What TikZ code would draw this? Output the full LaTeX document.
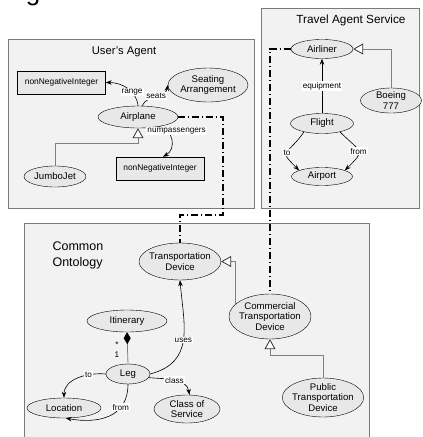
\documentclass[tikz,border=0pt]{standalone}
\usepackage{fontspec}
\setmainfont{Liberation Sans}
\usetikzlibrary{arrows.meta,shapes.geometric}
\definecolor{pkgfill}{HTML}{F2F2F2}
\definecolor{clsfill}{HTML}{E8E8E8}
\definecolor{pkgline}{HTML}{7A7A7A}
\definecolor{genline}{HTML}{808080}

\begin{document}
\begin{tikzpicture}[x=1pt,y=1pt,>={Stealth[length=6pt,width=4.5pt]},
  cls/.style={draw,ellipse,fill=clsfill,inner xsep=-2pt,inner ysep=-2pt,align=center,font=\fontsize{9.6}{10.8}\selectfont},
  dtype/.style={draw,fill=clsfill,font=\fontsize{8.4}{10}\selectfont,minimum width=88pt,minimum height=23pt,inner sep=0pt},
  pkg/.style={draw=pkgline,fill=pkgfill,line width=0.8pt},
  lbl/.style={fill=white,inner sep=1pt,font=\fontsize{8.2}{9.6}\selectfont},
  gen/.style={draw=genline,line width=0.8pt,-{Triangle[open,length=10pt,width=11pt,fill=white,color=black!80]}},
  link/.style={line width=1.1pt,dash pattern=on 7pt off 3pt on 1pt off 3pt},
  rel/.style={->,line width=0.6pt}]
\useasboundingbox (0,0) rectangle (423,-437);
\fill[white] (0,0) rectangle (423,-437);
\node[font=\fontsize{26}{26}\selectfont,anchor=base,inner sep=0pt] (gfrag) at (33,0) {g};
% packages
\draw[pkg] (8,-39) rectangle (254,-208);
\node[font=\fontsize{11.2}{13}\selectfont] (uatitle) at (124,-52) {User's Agent};
\draw[pkg] (261,-8) rectangle (419,-208);
\node[font=\fontsize{11.8}{13}\selectfont] (tatitle) at (351,-20) {Travel Agent Service};
\draw[pkg] (24,-223) rectangle (369,-445);
\node[font=\fontsize{12.5}{16}\selectfont,align=left,anchor=north west] (cotitle) at (49,-238) {Common\\Ontology};
% user's agent
\node[dtype] (nni1) at (61.5,-82.5) {nonNegativeInteger};
\node[cls,minimum width=80pt,minimum height=34pt] (seat) at (208,-85) {Seating\\Arrangement};
\node[cls,minimum width=80pt,minimum height=22pt] (air) at (138,-117) {Airplane};
\node[cls,minimum width=62pt,minimum height=21pt] (jj) at (55,-176.5) {JumboJet};
\node[dtype] (nni2) at (160,-168.5) {nonNegativeInteger};
\draw[rel] (air.north) to[out=95,in=0] node[lbl,pos=0.35] {range} (nni1.east);
\draw[rel] (air.70) to[out=65,in=-100] node[lbl,pos=0.5] {seats} (seat.west);
\draw[rel] (air.-25) to[out=-10,in=30,looseness=1.3] node[lbl,pos=0.25,xshift=9pt] {numpassengers} ([xshift=3pt]nni2.north);
\draw[gen] (jj.north) |- ([yshift=-15pt]air.south) -- (air.south);
% travel agent service
\node[cls,minimum width=62pt,minimum height=19pt] (al) at (322,-49) {Airliner};
\node[cls,minimum width=61pt,minimum height=25pt] (b7) at (391,-100.5) {Boeing\\777};
\node[cls,minimum width=63pt,minimum height=20pt] (fl) at (322,-123.5) {Flight};
\node[cls,minimum width=61pt,minimum height=18pt] (ap) at (322,-176.5) {Airport};
\draw[rel] (fl.north) -- node[lbl] {equipment} (al.south);
\draw[rel] (fl.205) to[out=235,in=135,looseness=2] node[lbl] {to} (ap.165);
\draw[rel] (fl.-25) to[out=-45,in=45,looseness=2] node[lbl] {from} (ap.15);
\draw[gen] (b7.north) |- (al.east);
% common ontology
\node[cls,minimum width=82pt,minimum height=37pt] (td) at (180,-261.5) {Transportation\\Device};
\node[cls,minimum width=80pt,minimum height=22pt] (itin) at (127,-321) {Itinerary};
\node[cls,minimum width=44pt,minimum height=20pt] (leg) at (128,-374) {Leg};
\node[cls,minimum width=74pt,minimum height=20pt] (loc) at (64,-408) {Location};
\node[cls,minimum width=66pt,minimum height=28pt] (cos) at (187,-409) {Class of\\Service};
\node[cls,minimum width=82pt,minimum height=45pt] (ctd) at (270,-316.5) {Commercial\\Transportation\\Device};
\node[cls,minimum width=80pt,minimum height=39pt] (ptd) at (323,-397.5) {Public\\Transportation\\Device};
\draw[draw=genline,line width=0.8pt,-{Diamond[length=12pt,width=7pt,color=black]}] (leg.north) -- (itin.south);
\node[lbl,fill=none] (mstar) at (117,-345) {*};
\node[lbl,fill=none] (mone) at (117,-355) {1};
\draw[rel] (leg.east) to[out=15,in=-85,looseness=1.2] node[lbl,pos=0.5] {uses} (td.south);
\draw[rel] (leg.-10) to[out=-5,in=100] node[lbl,pos=0.5] {class} (cos.80);
\draw[rel] (leg.west) to[out=175,in=90] node[lbl,pos=0.3] {to} (loc.north);
\draw[rel] (leg.south) to[out=-90,in=-10,looseness=1.2] node[lbl,pos=0.3] {from} (loc.-80);
\draw[gen] (ctd.160) |- (td.east);
\draw[gen] (ptd.north) |- ([yshift=-16pt]ctd.south) -- (ctd.south);
% links between ontologies
\draw[link] (air.east) -| (223,-215) -| (td.north);
\draw[link] (al.west) -| (ctd.north);
\end{tikzpicture}
\end{document}
